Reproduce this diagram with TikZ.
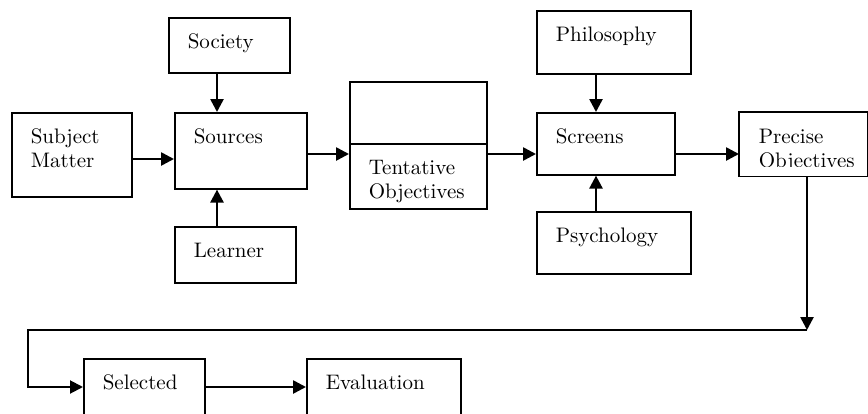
\documentclass[tikz,border=0pt]{standalone}
\usetikzlibrary{arrows.meta}

\tikzset{
  blk/.style 2 args={draw, line width=0.8pt, rectangle, anchor=north west,
    inner xsep=9.5pt, inner ysep=0pt, align=left,
    font=\fontsize{10.5}{12}\selectfont,
    minimum width=#1, minimum height=#2,
    text width={#1-19pt}, text height=15.5pt, text depth={#2-15.5pt}},
  arr/.style={line width=1.3pt, -{Triangle[length=6.5pt,width=6.5pt]}}
}

\begin{document}
\begin{tikzpicture}[x=0.5pt,y=-0.5pt]
    \clip (0,0) rectangle (868,413);

    % Sources
    \node[blk={60.5pt}{27.5pt}] (society) at (168,17) {Society};
    \node[blk={60pt}{42pt}] (subject) at (11,112) {Subject\\ Matter};
    \node[blk={66pt}{38pt}] (sources) at (174,112) {Sources};
    \node[blk={60.5pt}{28pt}] (learner) at (174,226) {Learner};

    % Tentative objectives
    \node[blk={68.5pt}{31pt}] (tentop) at (349,81) {};
    \node[blk={68.5pt}{32.5pt}] (tentative) at (349,143) {Tentative\\ Objectives};

    % Screens
    \node[blk={77pt}{31.5pt}] (philosophy) at (536,10) {Philosophy};
    \node[blk={69pt}{31pt}] (screens) at (536,112) {Screens};
    \node[blk={77pt}{31pt}] (psychology) at (536,211) {Psychology};

    % Precise objectives (text cut off at the bottom)
    \begin{scope}
        \clip (739,112) rectangle (866,166);
        \node[blk={63.5pt}{31.5pt}, draw=none] (precise) at (739,112) {Precise\\ Objectives};
    \end{scope}
    \draw[line width=0.8pt] (precise.south west) rectangle (precise.north east);

    % Bottom row
    \node[blk={60.5pt}{40pt}] (selected) at (83,358) {Selected};
    \node[blk={77pt}{40pt}] (evaluation) at (306,358) {Evaluation};

    % Arrows into sources
    \draw[arr] ([xshift=24.5pt]society.south west) -- ([xshift=24.5pt]society.south west |- sources.north);
    \draw[arr] ([xshift=21.5pt]learner.north west) -- ([xshift=21.5pt]learner.north west |- sources.south);
    \draw[arr] ([yshift=-23.5pt]subject.north east) -- ([yshift=-23.5pt]subject.north east -| sources.west);

    % Main line
    \draw[arr] ([yshift=-21pt]sources.north east) -- ([yshift=-21pt]sources.north east -| tentative.west);
    \draw[arr] ([yshift=-5.5pt]tentative.north east) -- ([yshift=-5.5pt]tentative.north east -| screens.west);
    \draw[arr] ([yshift=-21pt]screens.north east) -- ([yshift=-21pt]screens.north east -| precise.west);

    % Arrows into screens
    \draw[arr] ([xshift=30pt]philosophy.south west) -- ([xshift=30pt]philosophy.south west |- screens.north);
    \draw[arr] ([xshift=30pt]psychology.north west) -- ([xshift=30pt]psychology.north west |- screens.south);

    % Return line
    \coordinate (drop) at (807,330);
    \coordinate (back) at (28,330);
    \draw[arr] ([xshift=34pt]precise.south west) -- (drop);
    \draw[arr, line width=1pt] (drop) -- (back) |- ([yshift=-14.5pt]selected.north west);
    \draw[arr] ([yshift=-14.5pt]selected.north east) -- ([yshift=-14.5pt]selected.north east -| evaluation.west);
\end{tikzpicture}
\end{document}
